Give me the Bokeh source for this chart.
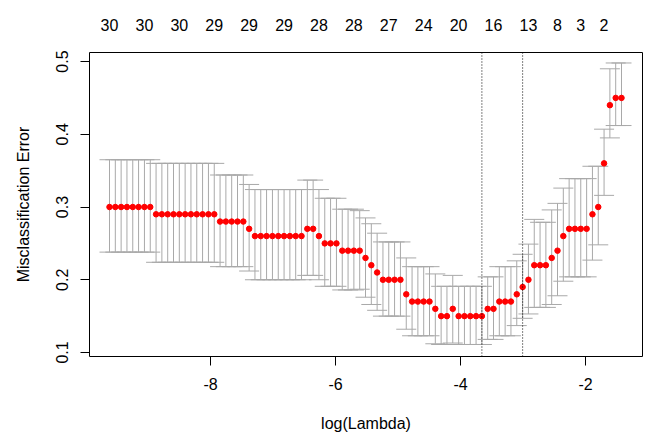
from bokeh.plotting import figure
from bokeh.models import (Range1d, LinearAxis, FixedTicker, CustomJSTickFormatter,
                          Span, Whisker, TeeHead, ColumnDataSource)
from bokeh.embed import file_html
from bokeh.resources import INLINE

# ---------------- data ----------------
log_lambda = [
    -9.616, -9.523, -9.430, -9.337, -9.244, -9.151, -9.057, -8.964, -8.871, -8.778,
    -8.685, -8.592, -8.499, -8.406, -8.313, -8.220, -8.127, -8.033, -7.940, -7.847,
    -7.754, -7.661, -7.568, -7.475, -7.382, -7.289, -7.196, -7.103, -7.009, -6.916,
    -6.823, -6.730, -6.637, -6.544, -6.451, -6.358, -6.265, -6.172, -6.079, -5.985,
    -5.892, -5.799, -5.706, -5.613, -5.520, -5.427, -5.334, -5.241, -5.148, -5.055,
    -4.961, -4.868, -4.775, -4.682, -4.589, -4.496, -4.403, -4.310, -4.217, -4.124,
    -4.030, -3.937, -3.844, -3.751, -3.658, -3.565, -3.472, -3.379, -3.286, -3.193,
    -3.100, -3.006, -2.913, -2.820, -2.727, -2.634, -2.541, -2.448, -2.355, -2.262,
    -2.169, -2.076, -1.982, -1.889, -1.796, -1.703, -1.610, -1.517, -1.424,
]

cv_error = [
    0.30, 0.30, 0.30, 0.30, 0.30, 0.30, 0.30, 0.30,
    0.29, 0.29, 0.29, 0.29, 0.29, 0.29, 0.29, 0.29, 0.29, 0.29, 0.29,
    0.28, 0.28, 0.28, 0.28, 0.28,
    0.27,
    0.26, 0.26, 0.26, 0.26, 0.26, 0.26, 0.26, 0.26, 0.26,
    0.27, 0.27,
    0.26,
    0.25, 0.25, 0.25,
    0.24, 0.24, 0.24, 0.24,
    0.23, 0.22, 0.21,
    0.20, 0.20, 0.20, 0.20,
    0.18,
    0.17, 0.17, 0.17, 0.17,
    0.16,
    0.15, 0.15,
    0.16,
    0.15, 0.15, 0.15, 0.15, 0.15,
    0.16, 0.16,
    0.17, 0.17, 0.17,
    0.18, 0.19, 0.20,
    0.22, 0.22, 0.22,
    0.23, 0.24, 0.26,
    0.27, 0.27, 0.27, 0.27,
    0.29, 0.30, 0.36, 0.44,
    0.45, 0.45,
]

cv_upper = [
    0.365, 0.365, 0.365, 0.365, 0.365, 0.365, 0.365, 0.365,
    0.360, 0.360, 0.360, 0.360, 0.360, 0.360, 0.360, 0.360, 0.360, 0.360, 0.360,
    0.344, 0.344, 0.344, 0.344, 0.344,
    0.331,
    0.324, 0.324, 0.324, 0.324, 0.324, 0.324, 0.324, 0.324, 0.324,
    0.337, 0.337,
    0.324,
    0.312, 0.312, 0.312,
    0.297, 0.297, 0.297, 0.295,
    0.285, 0.277, 0.264,
    0.252, 0.252, 0.252, 0.252,
    0.230,
    0.218, 0.218, 0.218, 0.218,
    0.208,
    0.191, 0.191,
    0.206,
    0.191, 0.191, 0.191, 0.191, 0.191,
    0.204, 0.204,
    0.218, 0.218, 0.218,
    0.226, 0.235, 0.249,
    0.283, 0.279, 0.279,
    0.296, 0.305, 0.326,
    0.339, 0.339, 0.339, 0.339,
    0.356, 0.356, 0.407, 0.490,
    0.498, 0.498,
]

cv_lower = [
    0.238, 0.238, 0.238, 0.238, 0.238, 0.238, 0.238, 0.238,
    0.224, 0.224, 0.224, 0.224, 0.224, 0.224, 0.224, 0.224, 0.224, 0.224, 0.224,
    0.218, 0.218, 0.218, 0.218, 0.218,
    0.212,
    0.200, 0.200, 0.200, 0.200, 0.200, 0.200, 0.200, 0.200, 0.200,
    0.206, 0.206,
    0.200,
    0.191, 0.191, 0.191,
    0.186, 0.186, 0.186, 0.187,
    0.176, 0.166, 0.158,
    0.150, 0.150, 0.150, 0.150,
    0.132,
    0.123, 0.123, 0.123, 0.123,
    0.112,
    0.111, 0.111,
    0.113,
    0.111, 0.111, 0.111, 0.111, 0.111,
    0.118, 0.118,
    0.123, 0.123, 0.123,
    0.137, 0.147, 0.153,
    0.162, 0.162, 0.162,
    0.166, 0.178, 0.198,
    0.204, 0.204, 0.204, 0.204,
    0.227, 0.248, 0.316, 0.395,
    0.412, 0.412,
]

# number of non-zero coefficients shown on the top axis
nz_label_index = [0, 6, 12, 18, 24, 30, 36, 42, 48, 54, 60, 66, 72, 77, 81, 85]
nz_labels = ["30", "30", "30", "29", "29", "29", "28", "28", "27",
             "24", "20", "16", "13", "8", "3", "2"]

lambda_min_index = 64
lambda_1se_index = 71

x_ticks = [-8, -6, -4, -2]
x_tick_labels = ["-8", "-6", "-4", "-2"]
y_ticks = [0.1, 0.2, 0.3, 0.4, 0.5]

# ---------------- plot ----------------
FONT = "Liberation Sans"
FS = "16px"

src = ColumnDataSource(dict(x=log_lambda, y=cv_error, upper=cv_upper, lower=cv_lower))

p = figure(frame_width=553, frame_height=304,
           min_border_left=89, min_border_right=15, min_border_top=52, min_border_bottom=85,
           x_range=Range1d(-9.936, -1.088), y_range=Range1d(0.0945, 0.5124),
           output_backend="svg", toolbar_location=None, tools="")

p.background_fill_color = "white"
p.border_fill_color = "white"
p.outline_line_color = "black"
p.outline_line_width = 1
p.grid.visible = False

grey = "#A9A9A9"
whisk = Whisker(base="x", upper="upper", lower="lower", source=src,
                line_color=grey, line_width=1, level="underlay",
                upper_head=TeeHead(size=20, line_color=grey, line_width=1),
                lower_head=TeeHead(size=20, line_color=grey, line_width=1))
p.add_layout(whisk)

p.scatter("x", "y", source=src, size=5.5, fill_color="red", line_color="red")

for idx in (lambda_min_index, lambda_1se_index):
    p.add_layout(Span(location=log_lambda[idx], dimension="height",
                      line_color="black", line_width=1, line_dash="1 2"))

def style_axis(ax):
    ax.axis_line_color = None
    ax.major_tick_line_color = "black"
    ax.minor_tick_line_color = None
    ax.major_tick_in = 0
    ax.major_tick_out = 9
    ax.major_label_text_font = FONT
    ax.major_label_text_font_size = FS
    ax.major_label_text_color = "black"
    ax.axis_label_text_font = FONT
    ax.axis_label_text_font_size = FS
    ax.axis_label_text_font_style = "normal"
    ax.axis_label_text_color = "black"

xa = p.xaxis[0]
style_axis(xa)
xa.ticker = FixedTicker(ticks=x_ticks)
xa.major_label_overrides = dict(zip(x_ticks, x_tick_labels))
xa.axis_label = "log(Lambda)"
xa.major_label_standoff = 12
xa.axis_label_standoff = 22

ya = p.yaxis[0]
style_axis(ya)
ya.ticker = FixedTicker(ticks=y_ticks)
ya.major_label_orientation = "vertical"
ya.axis_label = "Misclassification Error"
ya.major_label_standoff = 12
ya.axis_label_standoff = 22

top = LinearAxis(ticker=FixedTicker(ticks=[log_lambda[i] for i in nz_label_index]),
                 formatter=CustomJSTickFormatter(args=dict(labels=nz_labels),
                                                 code="return labels[index];"))
style_axis(top)
top.major_tick_out = 0
top.major_tick_line_color = None
top.major_label_standoff = 22
p.add_layout(top, "above")

open("out.html", "w").write(file_html(p, INLINE))
